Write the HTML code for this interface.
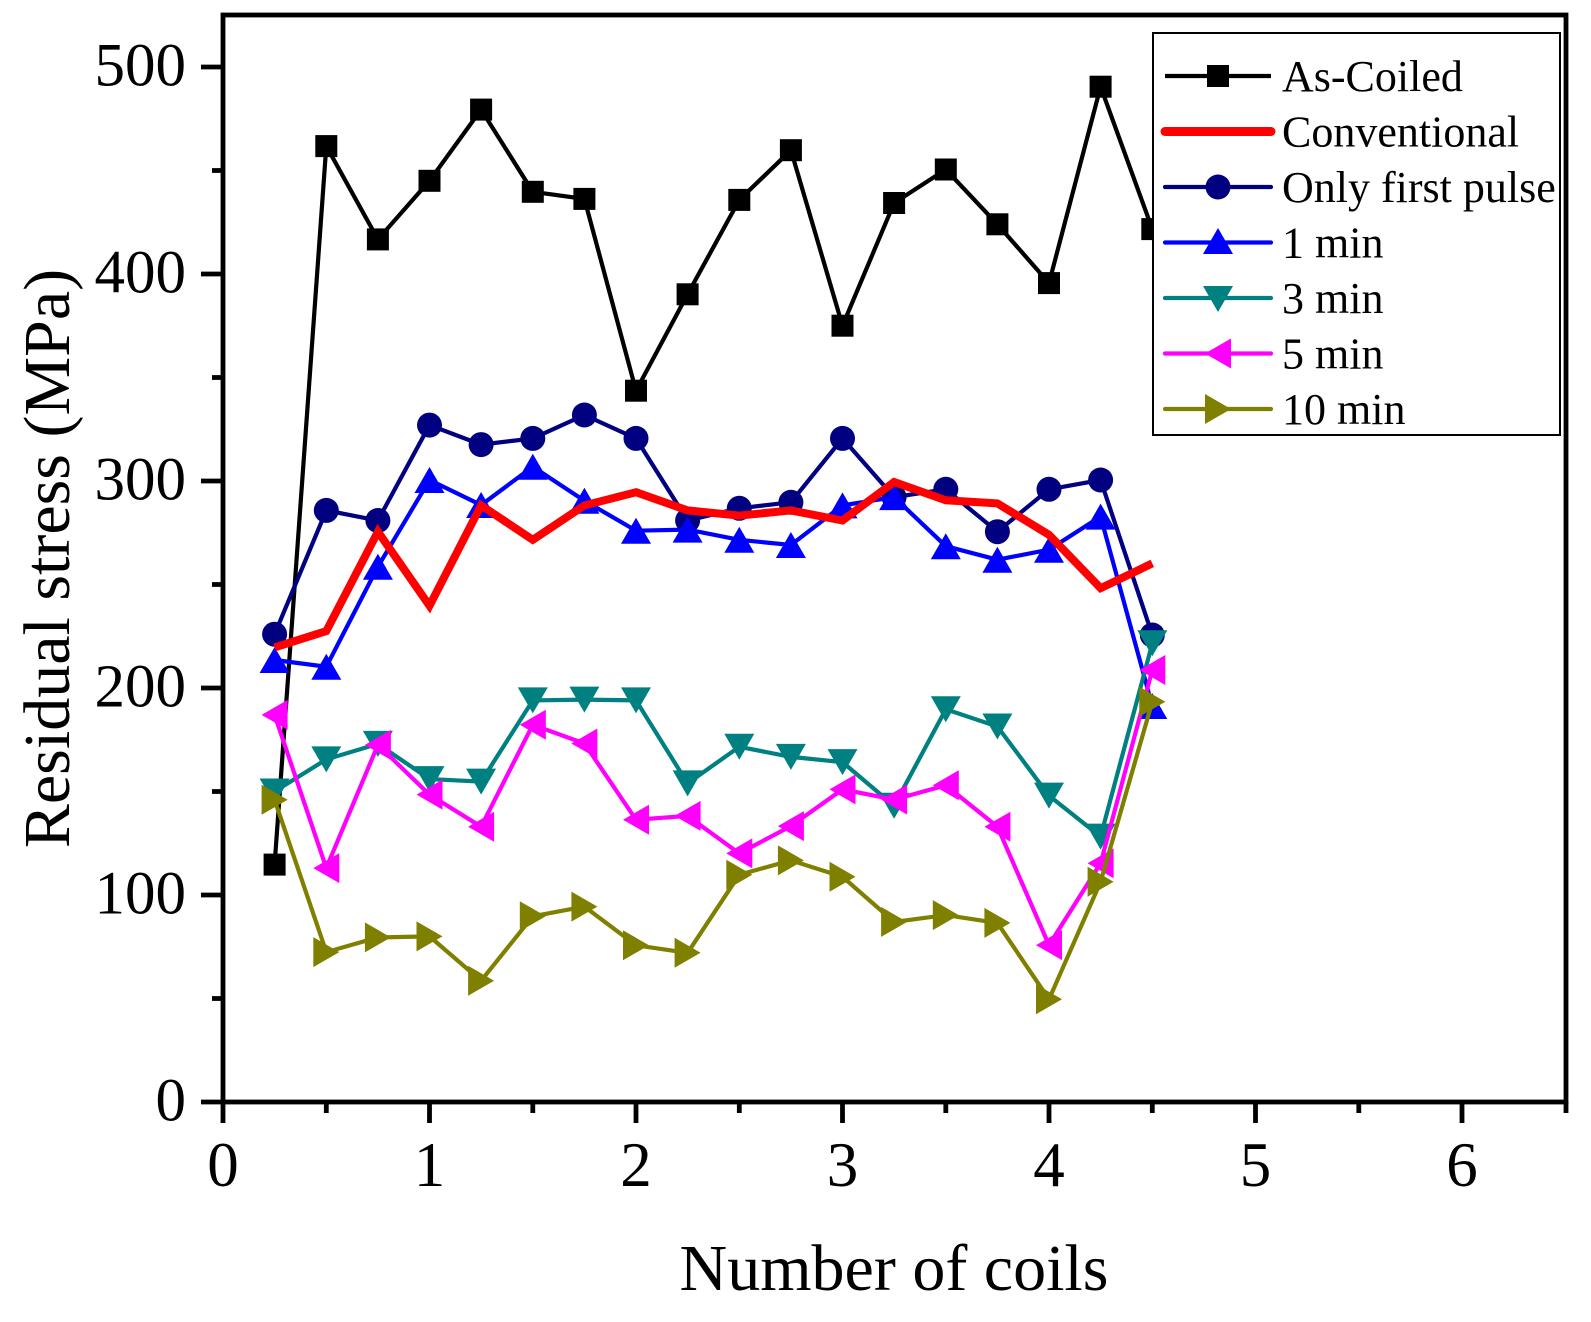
<!DOCTYPE html>
<html>
<head>
<meta charset="utf-8">
<style>
html,body{margin:0;padding:0;background:#fff;}
svg{display:block;}
text{font-family:"Liberation Serif","Times New Roman",serif;fill:#000;}
</style>
</head>
<body>
<svg width="1591" height="1322" viewBox="0 0 1591 1322" xmlns="http://www.w3.org/2000/svg">
<defs>
  <rect id="sq" x="-11" y="-11" width="22" height="22" fill="#000"/>
  <circle id="ci" r="12.5" fill="#000080"/>
  <polygon id="tu" points="0,-13 15,13 -15,13" fill="#0000FF"/>
  <polygon id="td" points="0,13 15,-13 -15,-13" fill="#008080"/>
  <polygon id="tl" points="-13,0 13,-15 13,15" fill="#FF00FF"/>
  <polygon id="tr" points="13,0 -13,-15 -13,15" fill="#808000"/>
</defs>

<!-- Axis ticks -->
<g stroke="#000" stroke-width="4.8" fill="none">
  <!-- y major -->
  <line x1="201" y1="1102" x2="223" y2="1102"/>
  <line x1="201" y1="895" x2="223" y2="895"/>
  <line x1="201" y1="688" x2="223" y2="688"/>
  <line x1="201" y1="481" x2="223" y2="481"/>
  <line x1="201" y1="274" x2="223" y2="274"/>
  <line x1="201" y1="67" x2="223" y2="67"/>
  <!-- y minor -->
  <line x1="212" y1="998.5" x2="223" y2="998.5"/>
  <line x1="212" y1="791.5" x2="223" y2="791.5"/>
  <line x1="212" y1="584.5" x2="223" y2="584.5"/>
  <line x1="212" y1="377.5" x2="223" y2="377.5"/>
  <line x1="212" y1="170.5" x2="223" y2="170.5"/>
  <!-- x major -->
  <line x1="223" y1="1102" x2="223" y2="1123"/>
  <line x1="429.5" y1="1102" x2="429.5" y2="1123"/>
  <line x1="636" y1="1102" x2="636" y2="1123"/>
  <line x1="842.5" y1="1102" x2="842.5" y2="1123"/>
  <line x1="1049" y1="1102" x2="1049" y2="1123"/>
  <line x1="1255.5" y1="1102" x2="1255.5" y2="1123"/>
  <line x1="1462" y1="1102" x2="1462" y2="1123"/>
  <!-- x minor -->
  <line x1="326.3" y1="1102" x2="326.3" y2="1113"/>
  <line x1="532.8" y1="1102" x2="532.8" y2="1113"/>
  <line x1="739.3" y1="1102" x2="739.3" y2="1113"/>
  <line x1="945.8" y1="1102" x2="945.8" y2="1113"/>
  <line x1="1152.3" y1="1102" x2="1152.3" y2="1113"/>
  <line x1="1358.8" y1="1102" x2="1358.8" y2="1113"/>
  <line x1="1566" y1="1102" x2="1566" y2="1113"/>
</g>

<!-- Series lines -->
<g fill="none" stroke-width="4.2" stroke-linejoin="miter">
  <polyline stroke="#000" points="274.6,864.6 326.3,146.1 377.9,239.4 429.5,180.8 481.1,109.6 532.8,191.8 584.4,198.9 636,390.7 687.6,294.3 739.3,199.9 790.9,150.2 842.5,325.7 894.1,203 945.8,169.5 997.4,224.3 1049,283.1 1100.6,86.7 1152.3,229.1"/>
</g>
<g>
  <use href="#sq" x="274.6" y="864.6"/><use href="#sq" x="326.3" y="146.1"/><use href="#sq" x="377.9" y="239.4"/>
  <use href="#sq" x="429.5" y="180.8"/><use href="#sq" x="481.1" y="109.6"/><use href="#sq" x="532.8" y="191.8"/>
  <use href="#sq" x="584.4" y="198.9"/><use href="#sq" x="636" y="390.7"/><use href="#sq" x="687.6" y="294.3"/>
  <use href="#sq" x="739.3" y="199.9"/><use href="#sq" x="790.9" y="150.2"/><use href="#sq" x="842.5" y="325.7"/>
  <use href="#sq" x="894.1" y="203"/><use href="#sq" x="945.8" y="169.5"/><use href="#sq" x="997.4" y="224.3"/>
  <use href="#sq" x="1049" y="283.1"/><use href="#sq" x="1100.6" y="86.7"/><use href="#sq" x="1152.3" y="229.1"/>
</g>

<!-- Only first pulse -->
<polyline fill="none" stroke="#000080" stroke-width="4.2" points="274.6,634.2 326.3,510.4 377.9,520.5 429.5,425.1 481.1,444.6 532.8,438.4 584.4,415 636,438.4 687.6,520.5 739.3,508.3 790.9,502.3 842.5,438.4 894.1,497.1 945.8,489.3 997.4,531.7 1049,489.3 1100.6,480 1152.3,635"/>
<g>
  <use href="#ci" x="274.6" y="634.2"/><use href="#ci" x="326.3" y="510.4"/><use href="#ci" x="377.9" y="520.5"/>
  <use href="#ci" x="429.5" y="425.1"/><use href="#ci" x="481.1" y="444.6"/><use href="#ci" x="532.8" y="438.4"/>
  <use href="#ci" x="584.4" y="415"/><use href="#ci" x="636" y="438.4"/><use href="#ci" x="687.6" y="520.5"/>
  <use href="#ci" x="739.3" y="508.3"/><use href="#ci" x="790.9" y="502.3"/><use href="#ci" x="842.5" y="438.4"/>
  <use href="#ci" x="894.1" y="497.1"/><use href="#ci" x="945.8" y="489.3"/><use href="#ci" x="997.4" y="531.7"/>
  <use href="#ci" x="1049" y="489.3"/><use href="#ci" x="1100.6" y="480"/><use href="#ci" x="1152.3" y="635"/>
</g>

<!-- 1 min -->
<polyline fill="none" stroke="#0000FF" stroke-width="4.2" points="274.6,660 326.3,666.7 377.9,566.7 429.5,480 481.1,505 532.8,466.7 584.4,500.7 636,530.7 687.6,529.6 739.3,539.8 790.9,545 842.5,505.4 894.1,497.1 945.8,546.2 997.4,559.7 1049,549.7 1100.6,516.6 1152.3,706"/>
<g>
  <use href="#tu" x="274.6" y="660"/><use href="#tu" x="326.3" y="666.7"/><use href="#tu" x="377.9" y="566.7"/>
  <use href="#tu" x="429.5" y="480"/><use href="#tu" x="481.1" y="505"/><use href="#tu" x="532.8" y="466.7"/>
  <use href="#tu" x="584.4" y="500.7"/><use href="#tu" x="636" y="530.7"/><use href="#tu" x="687.6" y="529.6"/>
  <use href="#tu" x="739.3" y="539.8"/><use href="#tu" x="790.9" y="545"/><use href="#tu" x="842.5" y="505.4"/>
  <use href="#tu" x="894.1" y="497.1"/><use href="#tu" x="945.8" y="546.2"/><use href="#tu" x="997.4" y="559.7"/>
  <use href="#tu" x="1049" y="549.7"/><use href="#tu" x="1100.6" y="516.6"/><use href="#tu" x="1152.3" y="706"/>
</g>

<!-- 3 min -->
<polyline fill="none" stroke="#008080" stroke-width="4.2" points="274.6,791.5 326.3,759.4 377.9,743.9 429.5,779.1 481.1,781.6 532.8,700.4 584.4,699.6 636,700.4 687.6,783.4 739.3,746.8 790.9,756.9 842.5,762.1 894.1,805.8 945.8,709.3 997.4,726.5 1049,795.6 1100.6,836.6 1152.3,643.3"/>
<g>
  <use href="#td" x="274.6" y="791.5"/><use href="#td" x="326.3" y="759.4"/><use href="#td" x="377.9" y="743.9"/>
  <use href="#td" x="429.5" y="779.1"/><use href="#td" x="481.1" y="781.6"/><use href="#td" x="532.8" y="700.4"/>
  <use href="#td" x="584.4" y="699.6"/><use href="#td" x="636" y="700.4"/><use href="#td" x="687.6" y="783.4"/>
  <use href="#td" x="739.3" y="746.8"/><use href="#td" x="790.9" y="756.9"/><use href="#td" x="842.5" y="762.1"/>
  <use href="#td" x="894.1" y="805.8"/><use href="#td" x="945.8" y="709.3"/><use href="#td" x="997.4" y="726.5"/>
  <use href="#td" x="1049" y="795.6"/><use href="#td" x="1100.6" y="836.6"/><use href="#td" x="1152.3" y="643.3"/>
</g>

<!-- 5 min -->
<polyline fill="none" stroke="#FF00FF" stroke-width="4.2" points="274.6,714.9 326.3,868.1 377.9,744.9 429.5,794.6 481.1,826.7 532.8,724.8 584.4,743.5 636,819.7 687.6,815.9 739.3,853.4 790.9,826.1 842.5,789.4 894.1,799.6 945.8,785.3 997.4,826.7 1049,945.1 1100.6,863.3 1152.3,670"/>
<g>
  <use href="#tl" x="274.6" y="714.9"/><use href="#tl" x="326.3" y="868.1"/><use href="#tl" x="377.9" y="744.9"/>
  <use href="#tl" x="429.5" y="794.6"/><use href="#tl" x="481.1" y="826.7"/><use href="#tl" x="532.8" y="724.8"/>
  <use href="#tl" x="584.4" y="743.5"/><use href="#tl" x="636" y="819.7"/><use href="#tl" x="687.6" y="815.9"/>
  <use href="#tl" x="739.3" y="853.4"/><use href="#tl" x="790.9" y="826.1"/><use href="#tl" x="842.5" y="789.4"/>
  <use href="#tl" x="894.1" y="799.6"/><use href="#tl" x="945.8" y="785.3"/><use href="#tl" x="997.4" y="826.7"/>
  <use href="#tl" x="1049" y="945.1"/><use href="#tl" x="1100.6" y="863.3"/><use href="#tl" x="1152.3" y="670"/>
</g>

<!-- 10 min -->
<polyline fill="none" stroke="#808000" stroke-width="4.2" points="274.6,799.8 326.3,952.1 377.9,937.4 429.5,936.4 481.1,980.7 532.8,916.3 584.4,906.6 636,945.3 687.6,952.8 739.3,874.7 790.9,860.4 842.5,876.8 894.1,921.9 945.8,915.1 997.4,922.9 1049,999.3 1100.6,881.8 1152.3,701.7"/>
<g>
  <use href="#tr" x="274.6" y="799.8"/><use href="#tr" x="326.3" y="952.1"/><use href="#tr" x="377.9" y="937.4"/>
  <use href="#tr" x="429.5" y="936.4"/><use href="#tr" x="481.1" y="980.7"/><use href="#tr" x="532.8" y="916.3"/>
  <use href="#tr" x="584.4" y="906.6"/><use href="#tr" x="636" y="945.3"/><use href="#tr" x="687.6" y="952.8"/>
  <use href="#tr" x="739.3" y="874.7"/><use href="#tr" x="790.9" y="860.4"/><use href="#tr" x="842.5" y="876.8"/>
  <use href="#tr" x="894.1" y="921.9"/><use href="#tr" x="945.8" y="915.1"/><use href="#tr" x="997.4" y="922.9"/>
  <use href="#tr" x="1049" y="999.3"/><use href="#tr" x="1100.6" y="881.8"/><use href="#tr" x="1152.3" y="701.7"/>
</g>

<!-- Conventional (red) -->
<polyline fill="none" stroke="#FF0000" stroke-width="8" stroke-linejoin="miter" points="274.6,647.4 326.3,631.1 377.9,531.7 429.5,605.8 481.1,505.4 532.8,539.8 584.4,505.4 636,492.2 687.6,510.4 739.3,515.6 790.9,510.4 842.5,520.5 894.1,482 945.8,500.3 997.4,503.4 1049,534.8 1100.6,588.2 1152.3,563.4"/>

<!-- Frame -->
<rect x="223" y="15" width="1343" height="1087" fill="none" stroke="#000" stroke-width="4.8"/>

<!-- Legend -->
<rect x="1153" y="33" width="407" height="402" fill="#fff" stroke="#000" stroke-width="2"/>
<g stroke-width="4.2">
  <line x1="1165" y1="76" x2="1271" y2="76" stroke="#000"/>
  <line x1="1165" y1="131.5" x2="1271" y2="131.5" stroke="#FF0000" stroke-width="9" stroke-linecap="round"/>
  <line x1="1165" y1="187" x2="1271" y2="187" stroke="#000080" stroke-linecap="round"/>
  <line x1="1165" y1="242.5" x2="1271" y2="242.5" stroke="#0000FF" stroke-linecap="round"/>
  <line x1="1165" y1="298" x2="1271" y2="298" stroke="#008080" stroke-linecap="round"/>
  <line x1="1165" y1="353.5" x2="1271" y2="353.5" stroke="#FF00FF" stroke-linecap="round"/>
  <line x1="1165" y1="409" x2="1271" y2="409" stroke="#808000" stroke-linecap="round"/>
</g>
<use href="#sq" x="1218" y="76"/>
<use href="#ci" x="1218" y="187"/>
<use href="#tu" x="1218" y="241"/>
<use href="#td" x="1218" y="299"/>
<use href="#tl" x="1218" y="353.5"/>
<use href="#tr" x="1218" y="409"/>
<g font-size="44">
  <text x="1282" y="91">As-Coiled</text>
  <text x="1282" y="146.5">Conventional</text>
  <text x="1282" y="202">Only first pulse</text>
  <text x="1282" y="257.5">1 min</text>
  <text x="1282" y="313">3 min</text>
  <text x="1282" y="368.5">5 min</text>
  <text x="1282" y="424">10 min</text>
</g>

<!-- Y tick labels -->
<g font-size="61" text-anchor="end">
  <text x="186" y="1120.5">0</text>
  <text x="186" y="913.5">100</text>
  <text x="186" y="706.5">200</text>
  <text x="186" y="499.5">300</text>
  <text x="186" y="292.5">400</text>
  <text x="186" y="85.5">500</text>
</g>
<!-- X tick labels -->
<g font-size="63" text-anchor="middle">
  <text x="223" y="1186">0</text>
  <text x="429.5" y="1186">1</text>
  <text x="636" y="1186">2</text>
  <text x="842.5" y="1186">3</text>
  <text x="1049" y="1186">4</text>
  <text x="1255.5" y="1186">5</text>
  <text x="1462" y="1186">6</text>
</g>

<!-- Axis titles -->
<text x="894" y="1290" font-size="66" text-anchor="middle">Number of coils</text>
<text transform="translate(69,558.5) rotate(-90)" font-size="66" text-anchor="middle">Residual stress (MPa)</text>
</svg>
</body>
</html>
